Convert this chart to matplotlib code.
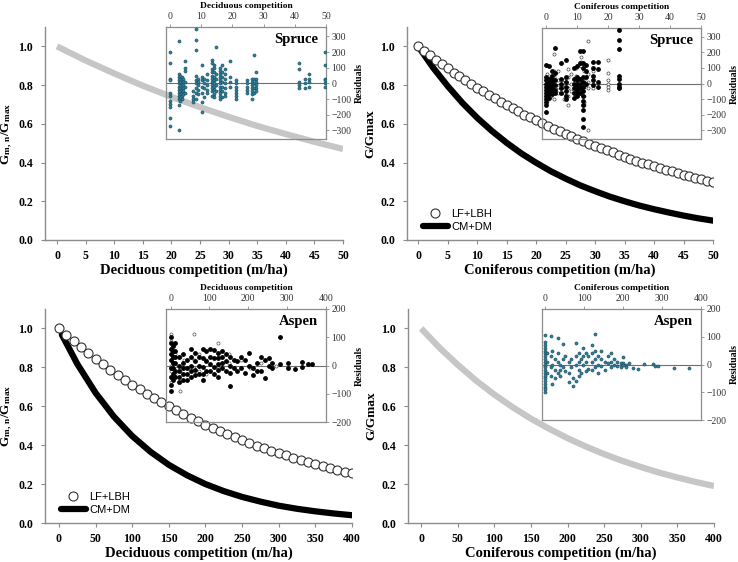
"""
Relative growth vs competition, with residual insets (spruce / aspen)
"""

import numpy as np
import matplotlib.pyplot as plt

plt.rcParams['font.family'] = ['Liberation Serif', 'DejaVu Serif']
plt.rcParams['mathtext.fontset'] = 'custom'
plt.rcParams['mathtext.rm'] = 'Liberation Serif'
plt.rcParams['mathtext.bf'] = 'Liberation Serif:bold'

# ---- main curves ----
tl_x = [0, 5, 10, 15, 20, 25, 30, 35, 40, 45, 50]
tl_gray = [1.000, 0.927, 0.860, 0.797, 0.739, 0.686, 0.636, 0.589, 0.547, 0.507, 0.470]

tr_circ_x = list(range(0, 51))
tr_circ = [1.000, 0.976, 0.953, 0.930, 0.908, 0.886, 0.865, 0.845, 0.825, 0.805,
           0.786, 0.767, 0.749, 0.731, 0.714, 0.697, 0.680, 0.664, 0.648, 0.633,
           0.618, 0.603, 0.589, 0.575, 0.561, 0.548, 0.535, 0.522, 0.510, 0.497,
           0.486, 0.474, 0.463, 0.452, 0.441, 0.430, 0.420, 0.410, 0.400, 0.391,
           0.382, 0.372, 0.364, 0.355, 0.347, 0.338, 0.330, 0.322, 0.315, 0.307,
           0.300]
tr_line_x = [0, 2.5, 5, 7.5, 10, 12.5, 15, 17.5, 20, 22.5, 25, 27.5, 30, 32.5,
             35, 37.5, 40, 42.5, 45, 47.5, 50]
tr_line = [1.000, 0.891, 0.795, 0.708, 0.631, 0.563, 0.502, 0.447, 0.399, 0.355,
           0.317, 0.282, 0.252, 0.224, 0.200, 0.178, 0.159, 0.142, 0.126, 0.112,
           0.100]

bl_circ_x = list(range(0, 401, 10))
bl_circ = [1.000, 0.966, 0.934, 0.903, 0.872, 0.843, 0.815, 0.787, 0.761, 0.735,
           0.711, 0.687, 0.664, 0.641, 0.620, 0.599, 0.579, 0.559, 0.541, 0.523,
           0.505, 0.488, 0.472, 0.456, 0.440, 0.426, 0.411, 0.397, 0.384, 0.371,
           0.359, 0.347, 0.335, 0.324, 0.313, 0.302, 0.292, 0.282, 0.273, 0.264,
           0.255]
bl_line_x = [4, 25, 50, 75, 100, 125, 150, 175, 200, 225, 250, 275, 300, 325,
             350, 375, 400]
bl_line = [0.968, 0.818, 0.669, 0.547, 0.447, 0.366, 0.299, 0.245, 0.200, 0.164,
           0.134, 0.110, 0.089, 0.073, 0.060, 0.049, 0.040]

br_x = [0, 25, 50, 75, 100, 125, 150, 175, 200, 225, 250, 275, 300, 325, 350, 375, 400]
br_gray = [1.000, 0.901, 0.813, 0.732, 0.660, 0.595, 0.536, 0.484, 0.436, 0.393,
           0.354, 0.319, 0.288, 0.259, 0.234, 0.211, 0.190]

# ---- residual columns: (competition, [residuals]) ----
spruce_dec = [
    (0, [200, 130, 30, 20, -60, -80, -110, -130, -150, -220, -270]),
    (2.8, [270, 60, 40, 20, 0, -20, -40, -60, -80, -100, -140, -295]),
    (3.3, [50, 30, 10, -10, -30, -50, -70, -90, -110]),
    (3.8, [40, 20, 0, -20, -40, -60, -80, -100]),
    (4.3, [30, 10, -10, -30, -50, -70]),
    (4.8, [145, 100, 80, 10, -20, -60]),
    (7.4, [-50, -80, -100, -120]),
    (8.3, [345, 280, 215, 50, 20, 0, -30, -60, -100]),
    (9.0, [30, 10, -10, -40, -70]),
    (10.2, [120, 40, 20, -20, -60, -120, -180]),
    (10.8, [30, 0, -30, -90]),
    (12.0, [60, 20, -10, -40, -60]),
    (13.3, [150, 130, 90, 70, 50, 30, 10, -10, -30, -50, -80]),
    (14.0, [120, 100, 70, 40, 20, 0, -20, -40, -70, -90]),
    (14.6, [230, 60, 30, -10, -50]),
    (16.0, [100, 80, 60, 40, 20, 0, -20, -40, -60, -80, -100]),
    (16.8, [120, 70, 40, 10, -20, -50, -90]),
    (17.6, [90, 60, 30, 0, -30, -60, -80]),
    (19.3, [140, 40, 10, -20]),
    (21.0, [20, 0, -20, -40, -60, -80, -100]),
    (24.6, [20, 0, -20, -40, -60]),
    (26.2, [30, 10, -10, -30, -50, -70, -100]),
    (26.9, [180, 30, 0, -30, -60]),
    (27.7, [75, 30, 10, -10, -30, -50]),
    (41.2, [130, 90, 10, -10, -30]),
    (43.2, [30, 0, -30]),
    (44.4, [60, 30, 10, -20]),
    (49.6, [200, 120, 30, 20, 0, -20]),
]

spruce_con_cm = [
    (0, [120, 40, 20, 0, -20, -40, -60, -80, -100, -120, -140, -180]),
    (1, [110, 30, 10, -10, -30, -50, -70, -90]),
    (2, [80, 50, 30, 10, -10, -30, -50, -70]),
    (2.9, [230, 70, 20, -10, -40, -60]),
    (4.8, [130, 30, 0, -30, -60]),
    (6.3, [150, 40, 10, -20, -50, -80, -100]),
    (9.0, [100, 30, 0, -30, -60, -90]),
    (10.0, [110, 40, 20, 0, -20, -40, -60, -80]),
    (10.9, [205, 130, 30, 0, -30, -60]),
    (12.0, [205, 130, 100, 40, 10, -20, -50, -80, -110, -140, -170, -230, -280]),
    (13.0, [120, 80, 40, 0]),
    (15.0, [140, 100, 50, 20, -10]),
    (16.9, [135, 90, 10, -20]),
    (23.5, [345, 280, 220, 50, 30, 0, -20, -30]),
]
spruce_con_lf = [
    (0.3, [60, 30, 10, -10, -30, -50, -70, -90, -110]),
    (1.5, [50, 0, -40, -80]),
    (2.5, [190, 80, 40, -10, -50, -100]),
    (3.8, [80, 20, -20, -60]),
    (5.8, [20, -20, -60, -100]),
    (7.0, [90, 40, -30, -80, -140]),
    (8.0, [60, 0, -50]),
    (9.8, [100, 50, -30, -60]),
    (11.3, [170, 140, 110, 30, -10, -50]),
    (12.4, [80, 20, -20, -80, -120, -140]),
    (13.7, [275, 60, 10, -30, -300]),
    (15.2, [80, 0, -30]),
    (20.1, [150, 70, 20, 0, -20, -40]),
]

aspen_dec_cm = [
    (0, [100, 80, 60, 40, 20, -10, -40, -70, -90]),
    (6, [70, 50, 30, 10, -10, -30, -50]),
    (12, [80, 50, 30, 10, -20, -40]),
    (22, [30, 0, -20, -40, -60]),
    (32, [40, 10, -10, -30, -50]),
    (42, [20, -10, -30, -50]),
    (52, [60, 30, 0, -20, -40]),
    (62, [45, 15, -15, -35]),
    (72, [30, 0, -30]),
    (82, [60, 25, -5, -30, -50]),
    (92, [50, 15, -20]),
    (102, [60, 30, 5, -20]),
    (112, [55, 25, -5, -30]),
    (122, [45, 25, 5, -15, -40]),
    (132, [50, 30, 10, -10]),
    (142, [40, 15, -20]),
    (153, [30, 0, -25, -74]),
    (162, [20, -10]),
    (172, [15, -20]),
    (182, [30, -10]),
    (192, [20, -25]),
    (202, [45, 0]),
    (212, [-10, -35]),
    (222, [10, -20]),
    (232, [30, -20]),
    (242, [20, -45]),
    (252, [25, 0]),
    (262, [10, -10]),
    (281, [100, 5]),
    (302, [10, -10]),
    (320, [-12]),
    (337, [12, -6]),
    (354, [6]),
    (363, [6]),
]
aspen_dec_lf = [
    (2, [110, 85, 60, 40, 20, 0, -20, -40, -60]),
    (12, [40, 0, -30]),
    (24, [30, -20, -60, -90]),
    (34, [20, -10]),
    (59, [110, 20, -10]),
    (72, [40, 0, -20]),
    (92, [20, -30]),
    (122, [80, 30, -10]),
    (150, [40, 10]),
    (182, [20]),
    (205, [0, -10]),
    (232, [10]),
    (272, [0]),
]

aspen_con = [
    (0, [108, 80, 70, 60, 50, 40, 30, 20, 10, 0, -10, -20, -30, -40, -50,
         -60, -70, -80, -90, -100]),
    (5, [40, 10, -30]),
    (14, [102, 30, -10, -40]),
    (18, [50, 0, -70]),
    (24, [20, -20, -50]),
    (31, [96, 40, 10, -30]),
    (38, [0, -20, -40]),
    (44, [73, 20, -10]),
    (50, [30, -25]),
    (60, [10, -30, -64]),
    (66, [20, -10]),
    (71, [-76, -50]),
    (78, [76, 30, 0, -58]),
    (85, [40, 10, -20, -40]),
    (92, [20, -30]),
    (97, [61, 30, 0]),
    (104, [40, 10, -25]),
    (110, [30, -15]),
    (120, [70, 40, 10, -20]),
    (127, [111, 50, 20, -10]),
    (134, [30, 0, -30]),
    (144, [49, 20, -5]),
    (152, [10, -20]),
    (160, [30, 5]),
    (168, [43, 10, -10]),
    (176, [20, 0]),
    (185, [10, -5]),
    (193, [5, -10]),
    (200, [27, 5, 0]),
    (208, [0, -10]),
    (215, [5]),
    (224, [-11]),
    (239, [-17]),
    (253, [1]),
    (277, [1]),
    (281, [-5]),
    (290, [-5]),
    (331, [-13]),
    (370, [-11]),
]

TEAL = '#2f7f98'
TEAL_EDGE = '#1b4c5e'
GRAY_LINE = '#c6c6c6'
SPINE = '#8c8c8c'

W, H = 738, 562


def flatten(cols):
    xs = [x for x, ys in cols for _ in ys]
    ys = [y for _, ys in cols for y in ys]
    return xs, ys


def px_rect(left, top, right, bottom):
    """pixel box -> figure fraction rect"""
    return [left / W, 1 - bottom / H, (right - left) / W, (bottom - top) / H]


def style_main(ax, xlim, xticks, xlabel, ylabel):
    ax.set_xlim(*xlim)
    ax.set_ylim(0, 1.1)
    ax.set_xticks(xticks)
    ax.set_yticks(np.arange(0, 1.01, 0.2))
    ax.set_yticklabels([f'{v:.1f}' for v in np.arange(0, 1.01, 0.2)])
    for s in ['top', 'right']:
        ax.spines[s].set_visible(False)
    for s in ['left', 'bottom']:
        ax.spines[s].set_color(SPINE)
        ax.spines[s].set_linewidth(1.0)
    ax.tick_params(direction='out', length=3, width=0.8, color=SPINE,
                   labelsize=8.5, pad=4)
    ax.tick_params(axis='y', pad=5.5)
    for lab in ax.get_xticklabels() + ax.get_yticklabels():
        lab.set_fontweight('bold')
    ax.set_xlabel(xlabel, fontsize=10.5, fontweight='bold', labelpad=1)
    ax.set_ylabel(ylabel, fontsize=9.5, fontweight='bold', labelpad=2.5)
    ax.patch.set_alpha(0)


def style_inset(ax, xlim, xticks, ylim, yticks, xlabel, title):
    ax.set_xlim(*xlim)
    ax.set_ylim(*ylim)
    ax.set_xticks(xticks)
    ax.set_yticks(yticks)
    ax.xaxis.tick_top()
    ax.xaxis.set_label_position('top')
    ax.yaxis.tick_right()
    ax.yaxis.set_label_position('right')
    for s in ax.spines.values():
        s.set_color(SPINE)
        s.set_linewidth(0.9)
    ax.tick_params(direction='out', length=2.5, width=0.6, color=SPINE,
                   labelsize=7, labelcolor='#333333', pad=1.5)
    ax.set_xlabel(xlabel, fontsize=6.8, fontweight='bold', labelpad=3)
    ax.set_ylabel('Residuals', fontsize=7, fontweight='bold', labelpad=2)
    ax.axhline(0, color='#6e6e6e', lw=0.8, zorder=1)
    ax.text(0.95, 0.89, title, transform=ax.transAxes, ha='right', va='center',
            fontsize=10.5, fontweight='bold')
    ax.patch.set_alpha(0)


def add_legend(ax):
    h, l = ax.get_legend_handles_labels()
    ax.legend(h[::-1], l[::-1], loc='lower left', bbox_to_anchor=(0.02, -0.01),
              frameon=False, prop={'family': 'Liberation Sans', 'size': 8},
              handlelength=2.2, handletextpad=0.3, labelspacing=0.25)


fig = plt.figure(figsize=(7.38, 5.62), dpi=100)

ylab_mn = r'$\mathbf{G_{m,\,n}/G_{max}}$'

# ---- top left: spruce, deciduous ----
ax1 = fig.add_axes(px_rect(45, 27, 343, 240))
ax1.plot(tl_x, tl_gray, color=GRAY_LINE, lw=4.5, solid_capstyle='butt')
style_main(ax1, (-2.1, 50), range(0, 51, 5), 'Deciduous competition (m/ha)', ylab_mn)

in1 = fig.add_axes(px_rect(166, 27, 326, 139))
xs, ys = flatten(spruce_dec)
in1.scatter(xs, ys, s=5, color=TEAL, edgecolors=TEAL_EDGE, linewidths=0.4, zorder=3)
style_inset(in1, (-1.3, 50), range(0, 51, 10), (-355, 360), range(-300, 301, 100),
            'Deciduous competition', 'Spruce')

# ---- top right: spruce, coniferous ----
ax2 = fig.add_axes(px_rect(407, 27, 713, 240))
ax2.plot(tr_line_x, tr_line, color='black', lw=4.5, solid_capstyle='round',
         label='CM+DM', zorder=2)
ax2.plot(tr_circ_x, tr_circ, ls='none', marker='o', ms=6.5, mfc='white',
         mec='#333333', mew=0.8, label='LF+LBH', zorder=3)
style_main(ax2, (-1.9, 50), range(0, 51, 5), 'Coniferous competition (m/ha)', 'G/Gmax')
add_legend(ax2)

in2 = fig.add_axes(px_rect(542, 28, 701, 139))
xs, ys = flatten(spruce_con_lf)
in2.scatter(xs, ys, s=5, facecolors='white', edgecolors='#444444', linewidths=0.5, zorder=3)
xs, ys = flatten(spruce_con_cm)
in2.scatter(xs, ys, s=6, color='black', zorder=4)
style_inset(in2, (-1.3, 50), range(0, 51, 10), (-355, 355), range(-300, 301, 100),
            'Coniferous competition', 'Spruce')

# ---- bottom left: aspen, deciduous ----
ax3 = fig.add_axes(px_rect(45, 309, 352, 523))
ax3.plot(bl_line_x, bl_line, color='black', lw=4.5, solid_capstyle='round',
         label='CM+DM', zorder=2)
ax3.plot(bl_circ_x, bl_circ, ls='none', marker='o', ms=6.5, mfc='white',
         mec='#333333', mew=0.8, label='LF+LBH', zorder=3)
style_main(ax3, (-19, 400), range(0, 401, 50), 'Deciduous competition (m/ha)', ylab_mn)
add_legend(ax3)

in3 = fig.add_axes(px_rect(166, 309, 326, 422))
xs, ys = flatten(aspen_dec_lf)
in3.scatter(xs, ys, s=5, facecolors='white', edgecolors='#555555', linewidths=0.5, zorder=3)
xs, ys = flatten(aspen_dec_cm)
in3.scatter(xs, ys, s=6, color='black', zorder=4)
style_inset(in3, (-12, 400), range(0, 401, 100), (-200, 200), range(-200, 201, 100),
            'Deciduous competition', 'Aspen')

# ---- bottom right: aspen, coniferous ----
ax4 = fig.add_axes(px_rect(408, 309, 714, 523))
ax4.plot(br_x, br_gray, color=GRAY_LINE, lw=4.5, solid_capstyle='butt')
style_main(ax4, (-18, 400), range(0, 401, 50), 'Coniferous competition (m/ha)', 'G/Gmax')

in4 = fig.add_axes(px_rect(542, 309, 701, 420))
xs, ys = flatten(aspen_con)
in4.scatter(xs, ys, s=5, color=TEAL, edgecolors=TEAL_EDGE, linewidths=0.4, zorder=3)
style_inset(in4, (-9, 400), range(0, 401, 100), (-200, 200), range(-200, 201, 100),
            'Coniferous competition', 'Aspen')

plt.savefig('out.png', dpi=100)
plt.close()
